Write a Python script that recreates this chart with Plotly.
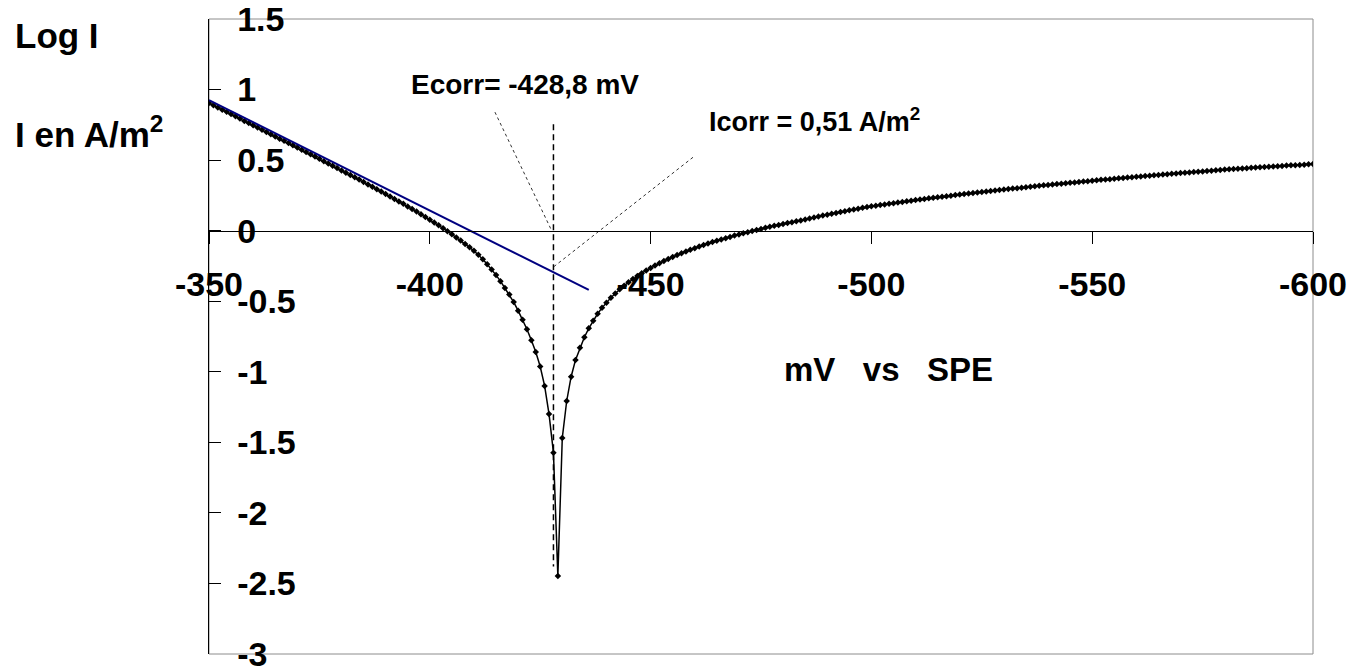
import plotly.graph_objects as go

# ---------------- data ----------------
potential_mV = list(range(-350, -601, -1))          # 1 mV steps, -350 ... -600
log_I = [
    0.904, 0.888, 0.873, 0.857, 0.842, 0.826, 0.810, 0.794, 0.778, 0.763,   # -350..-359
    0.747, 0.731, 0.716, 0.700, 0.684, 0.668, 0.652, 0.637, 0.621, 0.605,   # -360..-369
    0.589, 0.573, 0.557, 0.541, 0.525, 0.509, 0.492, 0.476, 0.460, 0.444,   # -370..-379
    0.427, 0.411, 0.395, 0.378, 0.362, 0.345, 0.328, 0.311, 0.294, 0.277,   # -380..-389
    0.260, 0.242, 0.225, 0.207, 0.190, 0.171, 0.153, 0.135, 0.116, 0.097,   # -390..-399
    0.077, 0.057, 0.038, 0.017, -0.004, -0.026, -0.048, -0.070, -0.094, -0.118,   # -400..-409
    -0.143, -0.170, -0.203, -0.238, -0.275, -0.315, -0.358, -0.406, -0.453, -0.506,  # -410..-419
    -0.567, -0.631, -0.699, -0.777, -0.860, -0.963, -1.100, -1.300, -1.573, -2.447,  # -420..-429
    -1.469, -1.207, -1.035, -0.916, -0.829, -0.755, -0.692, -0.638, -0.589, -0.547,  # -430..-439
    -0.510, -0.476, -0.445, -0.416, -0.390, -0.366, -0.343, -0.321, -0.301, -0.282,  # -440..-449
    -0.264, -0.247, -0.231, -0.215, -0.200, -0.186, -0.173, -0.160, -0.147, -0.135,  # -450..-459
    -0.124, -0.113, -0.102, -0.091, -0.081, -0.072, -0.062, -0.053, -0.044, -0.035,  # -460..-469
    -0.027, -0.019, -0.011, -0.003, 0.005, 0.012, 0.020, 0.027, 0.034, 0.041,   # -470..-479
    0.047, 0.054, 0.060, 0.066, 0.072, 0.079, 0.086, 0.093, 0.100, 0.107,   # -480..-489
    0.113, 0.120, 0.126, 0.132, 0.138, 0.144, 0.150, 0.156, 0.162, 0.168,   # -490..-499
    0.173, 0.177, 0.182, 0.186, 0.190, 0.195, 0.199, 0.204, 0.208, 0.212,   # -500..-509
    0.217, 0.221, 0.225, 0.229, 0.233, 0.237, 0.240, 0.244, 0.248, 0.252,   # -510..-519
    0.256, 0.260, 0.263, 0.267, 0.270, 0.274, 0.277, 0.281, 0.284, 0.288,   # -520..-529
    0.292, 0.295, 0.298, 0.301, 0.305, 0.308, 0.311, 0.314, 0.318, 0.321,   # -530..-539
    0.324, 0.327, 0.330, 0.333, 0.336, 0.339, 0.342, 0.345, 0.348, 0.351,   # -540..-549
    0.354, 0.357, 0.360, 0.362, 0.365, 0.368, 0.371, 0.373, 0.376, 0.379,   # -550..-559
    0.382, 0.384, 0.387, 0.390, 0.392, 0.395, 0.398, 0.400, 0.403, 0.405,   # -560..-569
    0.408, 0.410, 0.413, 0.415, 0.418, 0.420, 0.423, 0.425, 0.428, 0.430,   # -570..-579
    0.433, 0.435, 0.437, 0.439, 0.441, 0.443, 0.445, 0.447, 0.449, 0.451,   # -580..-589
    0.453, 0.455, 0.457, 0.459, 0.461, 0.463, 0.464, 0.466, 0.468, 0.470,   # -590..-599
    0.472,                                                                   # -600
]

# Tafel extrapolation line (blue)
tafel_E = [-350, -436]
tafel_logI = [0.925, -0.42]

# vertical dashed line at Ecorr
ecorr_line_E = [-428, -428]
ecorr_line_logI = [0.755, -2.38]

# dotted pointer lines from the labels
ecorr_pointer_E = [-414.75, -427.6]
ecorr_pointer_logI = [0.84, 0.0]
icorr_pointer_E = [-459.6, -428.1]
icorr_pointer_logI = [0.52, -0.255]

x_tick_vals = [-350, -400, -450, -500, -550, -600]
x_tick_text = ["-350", "-400", "-450", "-500", "-550", "-600"]
y_tick_vals = [1.5, 1, 0.5, 0, -0.5, -1, -1.5, -2, -2.5, -3]
y_tick_text = ["1.5", "1", "0.5", "0", "-0.5", "-1", "-1.5", "-2", "-2.5", "-3"]

# ---------------- figure ----------------
FONT = "Liberation Sans, Arial, Helvetica, sans-serif"
W, H = 1357, 668
L, R, T, B = 209, 44, 19, 14
PW, PH = W - L - R, H - T - B


def px(xp):
    return (xp - L) / PW


def py(yp):
    return (H - B - yp) / PH


fig = go.Figure()

fig.add_trace(go.Scatter(
    x=potential_mV, y=log_I, mode="lines+markers",
    line=dict(color="black", width=1.5),
    marker=dict(symbol="diamond", size=5, color="black"),
    hoverinfo="x+y", showlegend=False))

fig.add_trace(go.Scatter(
    x=tafel_E, y=tafel_logI, mode="lines",
    line=dict(color="#000080", width=2), showlegend=False))

fig.add_trace(go.Scatter(
    x=ecorr_line_E, y=ecorr_line_logI, mode="lines",
    line=dict(color="black", width=1.5, dash="6px,4px"), showlegend=False))

fig.add_trace(go.Scatter(
    x=ecorr_pointer_E, y=ecorr_pointer_logI, mode="lines",
    line=dict(color="#333333", width=1, dash="dot"), showlegend=False))

fig.add_trace(go.Scatter(
    x=icorr_pointer_E, y=icorr_pointer_logI, mode="lines",
    line=dict(color="#333333", width=1, dash="dot"), showlegend=False))

tick_font = dict(family=FONT, size=34, color="black", weight="bold")

fig.update_layout(
    width=W, height=H,
    margin=dict(l=L, r=R, t=T, b=B, pad=0, autoexpand=False),
    paper_bgcolor="white", plot_bgcolor="white",
    showlegend=False,
    xaxis=dict(
        range=[-350, -600], automargin=False,
        tickmode="array", tickvals=x_tick_vals, ticktext=x_tick_text,
        ticks="outside", ticklen=12, tickwidth=1, tickcolor="black",
        showline=True, linecolor="black", linewidth=1,
        showgrid=False, zeroline=False,
        anchor="free", position=3.0 / 4.5,
        tickfont=tick_font, ticklabelstandoff=12,
        ticklabeloverflow="allow",
    ),
    yaxis=dict(
        range=[-3, 1.5], automargin=False,
        tickmode="array", tickvals=y_tick_vals, ticktext=y_tick_text,
        ticks="inside", ticklen=12, tickwidth=1, tickcolor="black",
        ticklabelposition="inside",
        showline=True, linecolor="black", linewidth=1,
        showgrid=False, zeroline=False,
        tickfont=tick_font, ticklabelstandoff=20,
        ticklabeloverflow="allow",
    ),
    shapes=[dict(type="rect", xref="paper", yref="paper", x0=0, x1=1, y0=0, y1=1,
                 line=dict(color="#8c8c8c", width=1), layer="below")],
)

ann_big = dict(family=FONT, size=35, color="black")
ann_axis = dict(family=FONT, size=33, color="black")
ann_ecorr = dict(family=FONT, size=28, color="black")
ann_icorr = dict(family=FONT, size=27, color="black")
sp3 = "\u00a0\u00a0\u00a0"
annotations = [
    dict(text="<b>Log I</b>", x=px(14), y=py(35.5), font=ann_big),
    dict(text="<b>I en A/m<sup>2</sup></b>", x=px(14), y=py(132), font=ann_big),
    dict(text="<b>Ecorr= -428,8 mV</b>", x=px(410), y=py(84), font=ann_ecorr),
    dict(text="<b>Icorr = 0,51 A/m<sup>2</sup></b>", x=px(708), y=py(120), font=ann_icorr),
    dict(text="<b>mV" + sp3 + "vs" + sp3 + "SPE</b>", x=px(783), y=py(370), font=ann_axis),
]
for a in annotations:
    a.update(xref="paper", yref="paper", xanchor="left", yanchor="middle",
             showarrow=False, borderpad=0)
fig.update_layout(annotations=annotations)

fig.write_html(
    "out.html",
    config={"displayModeBar": False},
    post_script=("document.documentElement.style.margin='0';"
                 "document.body.style.margin='0';document.body.style.padding='0';"
                 "document.body.style.overflow='hidden';"),
)
